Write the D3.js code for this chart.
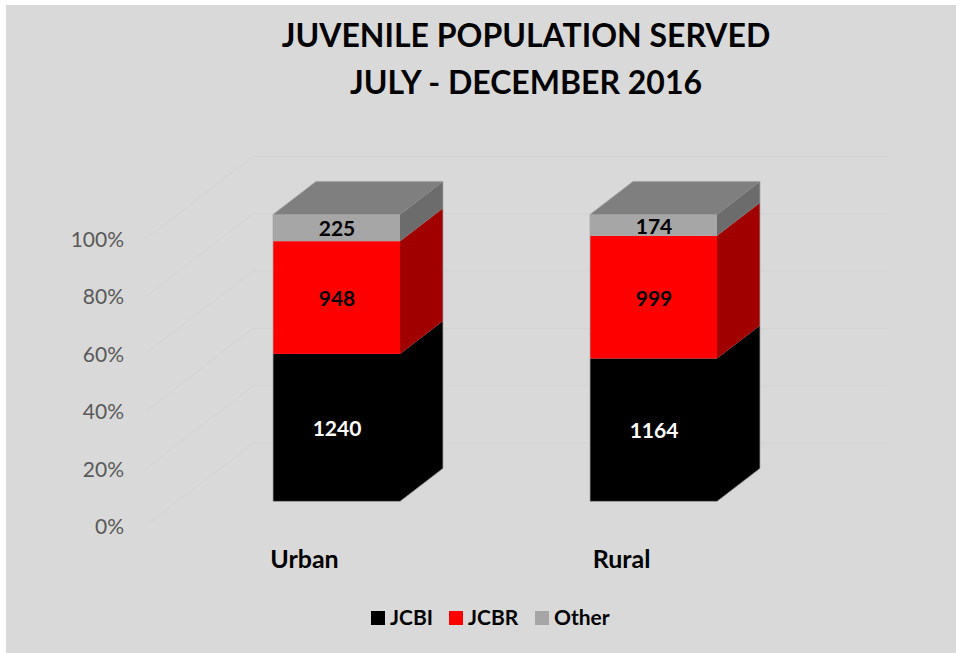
<!DOCTYPE html>
<html>
<head>
<meta charset="utf-8">
<script src="https://cdn.jsdelivr.net/npm/d3@7"></script>
<style>
html, body { margin: 0; padding: 0; background: #fff; }
svg { display: block; }
text { font-family: Lato, "Open Sans", sans-serif; }
</style>
</head>
<body>
<svg id="chart" width="956" height="653"></svg>
<script>
'use strict';

const categories = ['Urban', 'Rural'];
const seriesNames = ['JCBI', 'JCBR', 'Other'];
const jcbi = [1240, 1164];
const jcbr = [948, 999];
const other = [225, 174];
const yTicks = [0, 0.2, 0.4, 0.6, 0.8, 1];
const titleLines = ['JUVENILE POPULATION SERVED', 'JULY - DECEMBER 2016'];

const colors = {
	JCBI: { front: '#000000', side: '#000000' },
	JCBR: { front: '#ff0000', side: '#a00000' },
	Other: { front: '#a6a6a6', side: '#6c6c6c' }
};

// 3d offset of the bar depth, the wall sits a bit further back
const depth = { x: 43, y: -33 };
const wall = { x: 107, y: -82.5 };

const svg = d3.select('#chart');

svg.append('rect')
	.attr('x', 6)
	.attr('y', 5)
	.attr('width', 950)
	.attr('height', 648)
	.attr('fill', '#d9d9d9');

// y runs along the front plane of the floor, the bars stand 24px behind it
let y = d3.scaleLinear().domain([0, 1]).range([525.7, 238.7]);
const barShift = -24.3;
let x = d3.scaleBand().domain(categories).range([178, 812]).paddingInner(0.6).paddingOuter(0.3).round(true);

// gridlines, floor side then back wall
let grid = svg.append('g').attr('fill', 'none').attr('stroke', '#d3d3d3').attr('stroke-width', 1);
yTicks.forEach(t => {
	let y0 = y(t);
	grid.append('path')
		.attr('d', `M146,${y0}L${146 + wall.x},${y0 + wall.y}H888`);
});

// axis labels only, no domain or tick marks
let axis = svg.append('g')
	.attr('transform', 'translate(124,1)')
	.call(d3.axisLeft(y).tickValues(yTicks).tickFormat(d3.format('.0%')).tickSize(0).tickPadding(0));
axis.select('.domain').remove();
axis.selectAll('text')
	.attr('fill', '#595959')
	.attr('font-size', 21);

// stack the shares per category
let rows = categories.map((c, i) => ({ category: c, JCBI: jcbi[i], JCBR: jcbr[i], Other: other[i] }));
let shares = d3.stack().keys(seriesNames).offset(d3.stackOffsetExpand)(rows);

let bars = svg.append('g');
let labels = svg.append('g');

shares.forEach(layer => {
	layer.forEach((d, i) => {
		let x0 = x(categories[i]);
		let x1 = x0 + x.bandwidth();
		let yTop = y(d[1]) + barShift;
		let yBot = y(d[0]) + barShift;
		let c = colors[layer.key];

		// side face
		bars.append('path')
			.attr('d', `M${x1},${yBot}L${x1 + depth.x},${yBot + depth.y}V${yTop + depth.y}L${x1},${yTop}Z`)
			.attr('fill', c.side);

		// front face
		bars.append('rect')
			.attr('x', x0)
			.attr('y', yTop)
			.attr('width', x.bandwidth())
			.attr('height', yBot - yTop)
			.attr('fill', c.front);

		// top of the stack
		if (layer.key === 'Other') {
			bars.append('path')
				.attr('d', `M${x0},${yTop}L${x0 + depth.x},${yTop + depth.y}H${x1 + depth.x}L${x1},${yTop}Z`)
				.attr('fill', '#7f7f7f');
		}

		labels.append('text')
			.attr('x', (x0 + x1) / 2 + 0.5)
			.attr('y', (yTop + yBot) / 2)
			.attr('text-anchor', 'middle')
			.attr('dominant-baseline', 'central')
			.attr('font-size', 21)
			.attr('font-weight', 700)
			.attr('fill', layer.key === 'JCBI' ? '#ffffff' : '#000000')
			.text(rows[i][layer.key]);
	});
});

// thin grey edge round each bar
categories.forEach(c => {
	let x0 = x(c);
	let x1 = x0 + x.bandwidth();
	let yTop = y(1) + barShift;
	let yBot = y(0) + barShift;
	bars.append('path')
		.attr('d', `M${x0},${yBot}H${x1}L${x1 + depth.x},${yBot + depth.y}V${yTop + depth.y}H${x0 + depth.x}L${x0},${yTop}Z`)
		.attr('fill', 'none')
		.attr('stroke', '#a6a6a6')
		.attr('stroke-width', 0.75);
});

// category labels sit left of the bar centres
categories.forEach(c => {
	svg.append('text')
		.attr('x', x(c) + x.bandwidth() / 2 - 32)
		.attr('y', 558)
		.attr('text-anchor', 'middle')
		.attr('dominant-baseline', 'central')
		.attr('font-size', 25)
		.attr('font-weight', 700)
		.attr('fill', '#000')
		.text(c);
});

// title
titleLines.forEach((line, i) => {
	svg.append('text')
		.attr('x', 526)
		.attr('y', 34 + i * 47)
		.attr('text-anchor', 'middle')
		.attr('dominant-baseline', 'central')
		.attr('font-size', 32)
		.attr('font-weight', 700)
		.attr('fill', '#000')
		.text(line);
});

// legend
let legendX = [371, 449, 535];
seriesNames.forEach((name, i) => {
	svg.append('rect')
		.attr('x', legendX[i])
		.attr('y', 611)
		.attr('width', 14)
		.attr('height', 14)
		.attr('fill', colors[name].front);
	svg.append('text')
		.attr('x', legendX[i] + 19)
		.attr('y', 616.5)
		.attr('dominant-baseline', 'central')
		.attr('font-size', 21)
		.attr('font-weight', 700)
		.attr('fill', '#000')
		.text(name);
});
</script>
</body>
</html>
